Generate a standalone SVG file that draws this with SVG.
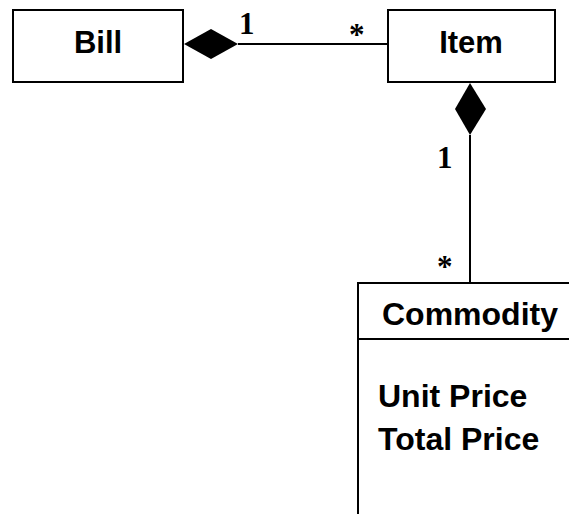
<svg xmlns="http://www.w3.org/2000/svg" width="569" height="514" viewBox="0 0 569 514">
<style>
.box{fill:#fff;stroke:#000;stroke-width:2}
.lbl{font-family:"Liberation Sans",Arial,sans-serif;font-weight:bold;font-size:32px;fill:#000}
.mult{font-family:"Liberation Serif","Times New Roman",serif;font-weight:bold;font-size:31px;fill:#000}
.conn{stroke:#000;stroke-width:2;fill:none}
.dia{fill:#000;stroke:none}
</style>
<rect width="569" height="514" fill="#fff"/>
<g id="connectors">
<line class="conn" x1="238" y1="44" x2="388" y2="44"/>
<polygon class="dia" points="184,44 211,29 238,44 211,59"/>
<line class="conn" x1="470" y1="135" x2="470" y2="283"/>
<polygon class="dia" points="470,83 486,109 470,135 455,109"/>
<text class="mult" x="239" y="34">1</text>
<text class="mult" x="349" y="45">*</text>
<text class="mult" x="437" y="168">1</text>
<text class="mult" x="437" y="277">*</text>
</g>
<g id="bill">
<rect class="box" x="13" y="10" width="170" height="72"/>
<text class="lbl" x="98" y="53" text-anchor="middle" style="font-size:31px">Bill</text>
</g>
<g id="item">
<rect class="box" x="388" y="10" width="167" height="72"/>
<text class="lbl" x="471" y="53" text-anchor="middle" style="font-size:31px">Item</text>
</g>
<g id="commodity">
<rect class="box" x="358" y="283" width="240" height="260"/>
<line class="conn" x1="358" y1="339" x2="569" y2="339"/>
<text class="lbl" x="382" y="325">Commodity</text>
<text class="lbl" x="378" y="407">Unit Price</text>
<text class="lbl" x="378" y="450">Total Price</text>
</g>
</svg>
